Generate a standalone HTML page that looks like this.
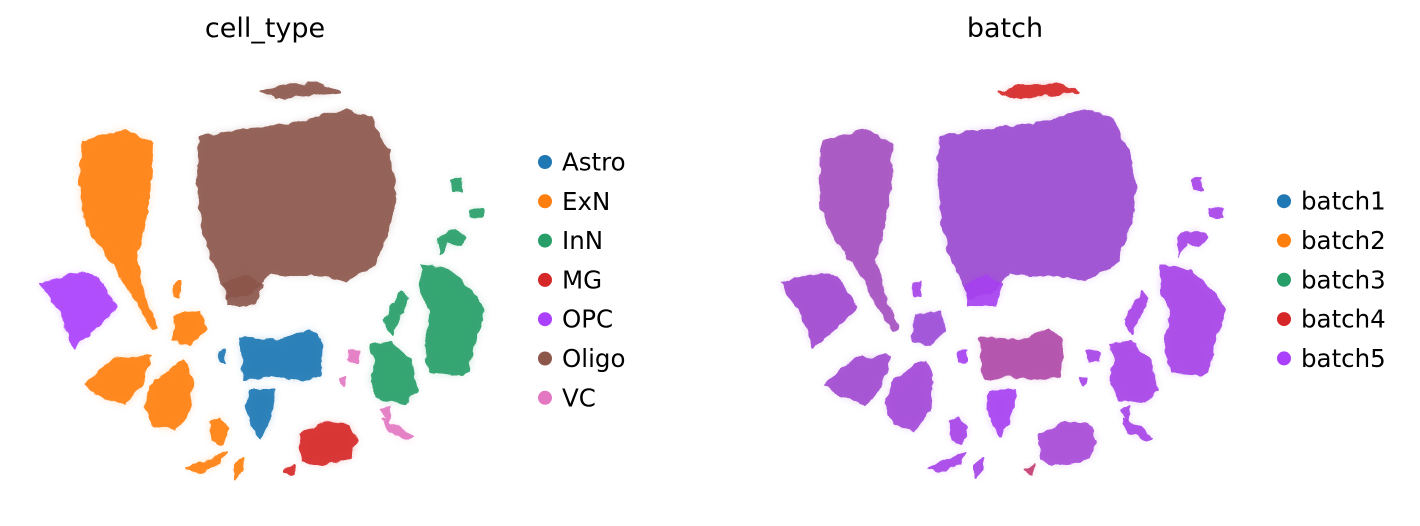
<!DOCTYPE html>
<html><head><meta charset="utf-8">
<style>
body{margin:0;background:#fff;}
svg{display:block;font-family:"DejaVu Sans","Liberation Sans",sans-serif;}
</style></head>
<body>
<svg id="chart" width="1420" height="526" viewBox="0 0 1420 526" xmlns="http://www.w3.org/2000/svg">
<defs>
<filter id="rough" x="-20%" y="-20%" width="140%" height="140%">
<feTurbulence type="fractalNoise" baseFrequency="0.09" numOctaves="2" seed="3" result="n"/>
<feDisplacementMap in="SourceGraphic" in2="n" scale="7" xChannelSelector="R" yChannelSelector="G"/>
</filter>
<filter id="soft" x="-30%" y="-30%" width="160%" height="160%">
<feGaussianBlur stdDeviation="4"/>
</filter>
</defs>
<text x="265" y="37" font-size="27" text-anchor="middle">cell_type</text>
<text x="1005" y="37" font-size="27" text-anchor="middle">batch</text>
<g id="left"></g>
<g id="right"></g>
<g id="legL"></g>
<g id="legR"></g>
</svg>
<script>
const cellTypes = ["Astro","ExN","InN","MG","OPC","Oligo","VC"];
const cellColors = ["#1f77b4","#ff7f0e","#279e68","#d62728","#aa40fc","#8c564b","#e377c2"];
const batches = ["batch1","batch2","batch3","batch4","batch5"];
const batchColors = ["#1f77b4","#ff7f0e","#279e68","#d62728","#aa40fc"];

// cluster shapes in UMAP embedding units; type index into cellTypes; batch mix color for right panel
const shapeType = [5,5,5,1,1,1,1,1,1,1,1,4,0,0,0,3,3,2,2,2,2,2,2,6,6,6,6];
const shapeBatchColor = ["#9a4ad0","#a640f0","#d62728","#a44fc0","#9c4bd8","#a049d0","#a247d8","#a642e8","#a642e8","#a642e8","#a642e8","#a046d0","#b048a8","#a640f0","#a640f0","#a84ad8","#c23a70","#a642e8","#a642e8","#a642e8","#a642e8","#a642e8","#a642e8","#a642e8","#a642e8","#a642e8","#a642e8"];
const shapePoints = [
 [[170,77],[210,70],[260,65],[315,50],[340,58],[358,90],[365,125],[362,160],[345,205],[315,220],[290,215],[260,215],[240,212],[222,232],[198,238],[192,220],[178,190],[170,150],[168,110]],
 [[195,225],[215,215],[232,225],[225,245],[200,245]],
 [[230,32],[255,25],[285,24],[310,32],[280,35],[245,38]],
 [[53,82],[95,70],[122,83],[120,130],[112,175],[105,200],[113,230],[127,268],[122,270],[100,230],[85,205],[65,180],[52,150],[50,115]],
 [[145,255],[170,252],[175,270],[160,285],[143,280]],
 [[55,325],[85,298],[120,296],[112,325],[95,345],[70,335]],
 [[125,320],[155,300],[162,320],[160,350],[145,370],[125,365],[115,345]],
 [[180,362],[190,357],[197,370],[192,385],[182,380]],
 [[158,408],[180,400],[195,392],[190,403],[170,412]],
 [[205,405],[213,398],[212,410],[205,418]],
 [[143,225],[150,222],[150,237],[144,236]],
 [[10,223],[50,213],[67,217],[87,248],[67,267],[43,287],[30,250]],
 [[210,278],[250,280],[280,270],[292,280],[290,315],[270,320],[240,315],[215,320]],
 [[220,330],[245,330],[240,360],[230,378],[222,365],[217,345]],
 [[188,292],[196,290],[195,302],[189,301]],
 [[270,375],[295,362],[318,365],[327,380],[320,398],[290,405],[272,400]],
 [[255,410],[265,405],[262,415]],
 [[392,205],[420,210],[445,235],[455,250],[448,270],[438,310],[430,315],[400,312],[395,285],[400,250],[390,230]],
 [[340,285],[360,282],[380,300],[387,330],[375,343],[350,340],[340,320],[345,300]],
 [[355,260],[372,232],[378,238],[362,275]],
 [[422,120],[430,118],[432,130],[423,130]],
 [[440,150],[452,148],[452,157],[440,156]],
 [[407,178],[425,170],[437,178],[430,186],[417,182],[410,195]],
 [[318,290],[330,292],[328,302],[318,300]],
 [[350,350],[360,348],[358,362]],
 [[353,360],[370,368],[383,378],[378,380],[360,372]],
 [[310,318],[316,318],[314,326]]
];
const panelLeft = [30, 770];
const panelTop = 60;
function xScale(u, p){ return panelLeft[p] + u; }
function yScale(v){ return panelTop + v; }
const NS = "http://www.w3.org/2000/svg";
function drawPanel(gid, p){
  const g = document.getElementById(gid);
  shapePoints.forEach((pts,i)=>{
    const d = pts.map((q,k)=>(k?"L":"M")+xScale(q[0],p).toFixed(1)+","+yScale(q[1]).toFixed(1)).join("")+"Z";
    const col = p===0 ? cellColors[shapeType[i]] : shapeBatchColor[i];
    const halo = document.createElementNS(NS,"path");
    halo.setAttribute("d", d);
    halo.setAttribute("fill", col);
    halo.setAttribute("opacity", "0.25");
    halo.setAttribute("filter", "url(#soft)");
    
    
    g.appendChild(halo);
    const path = document.createElementNS(NS,"path");
    path.setAttribute("d", d);
    path.setAttribute("fill", col);
    path.setAttribute("opacity", "0.9");
    path.setAttribute("stroke", col);
    path.setAttribute("stroke-width", "2");
    path.setAttribute("stroke-linejoin", "round");
    path.setAttribute("filter", "url(#rough)");
    
    
    g.appendChild(path);
  });
}
drawPanel("left",0);
drawPanel("right",1);
function drawLegend(gid, labels, colors, mx){
  const g = document.getElementById(gid);
  const y0 = 162 + (7 - labels.length) * 19.6;
  labels.forEach((lab,i)=>{
    const y = y0 + i*39.3;
    const c = document.createElementNS(NS,"circle");
    c.setAttribute("cx", mx); c.setAttribute("cy", y); c.setAttribute("r", 7);
    c.setAttribute("fill", colors[i]);
    
    
    g.appendChild(c);
    const t = document.createElementNS(NS,"text");
    t.setAttribute("x", mx+17); t.setAttribute("y", y+8.5);
    t.setAttribute("font-size", "24.5");
    t.textContent = lab;
    
    
    g.appendChild(t);
  });
}
drawLegend("legL", cellTypes, cellColors, 545);
drawLegend("legR", batches, batchColors, 1284);
</script>
</body></html>
